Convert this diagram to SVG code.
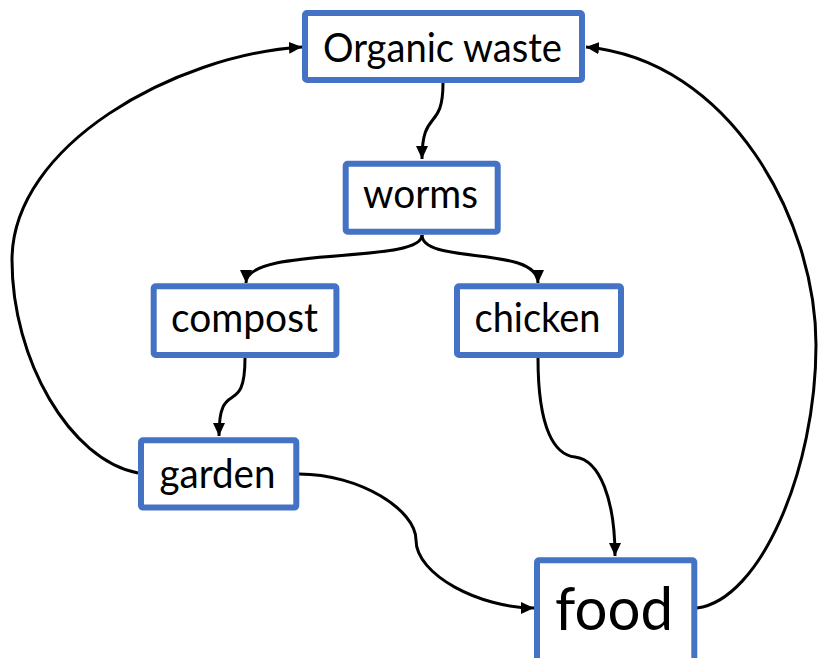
<svg xmlns="http://www.w3.org/2000/svg" width="819" height="658" viewBox="0 0 819 658">
  <defs>
    <marker id="arrow" markerUnits="userSpaceOnUse" markerWidth="14" markerHeight="13" refX="13" refY="6.5" orient="auto">
      <path d="M0,0.5 L13,6.5 L0,12.5 z" fill="#000"/>
    </marker>
    <style>
      .box { fill: #fff; stroke: #4472C4; stroke-width: 6; }
      .lbl { font-family: Lato, "Open Sans", "Liberation Sans", sans-serif; fill: #000; text-anchor: start; }
      .edge { fill: none; stroke: #000; stroke-width: 3; marker-end: url(#arrow); }
    </style>
  </defs>
  <rect width="819" height="658" fill="#fff"/>

  <g id="connectors">
    <path class="edge" d="M443,83 C443,132 422,108 422,159"/>
    <path class="edge" d="M422,235 C422,265 246,245 246,283"/>
    <path class="edge" d="M422,235 C422,265 538,245 538,283"/>
    <path class="edge" d="M245,358 C245,420 219,375 219,436"/>
    <path class="edge" d="M538,358 C538,430 555,455 575,457 C600,460 615,500 615,556"/>
    <path class="edge" d="M299,474 C360,474 416,510 416,540 C416,575 480,608 534,608"/>
    <path class="edge" d="M138,473 C70,460 12,360 12,260 C12,145 175,55 302,47"/>
    <path class="edge" d="M697,608 C760,600 816,470 816,345 C816,220 730,60 586,47"/>
  </g>

  <g id="organic-waste">
    <rect class="box" x="305" y="13" width="277" height="67" rx="2"/>
    <text class="lbl" x="323" y="61.5" font-size="40" textLength="239" lengthAdjust="spacingAndGlyphs">Organic waste</text>
  </g>
  <g id="worms">
    <rect class="box" x="345.7" y="163.7" width="152" height="68" rx="2"/>
    <text class="lbl" x="363" y="208.3" font-size="40" textLength="115" lengthAdjust="spacingAndGlyphs">worms</text>
  </g>
  <g id="compost">
    <rect class="box" x="153.7" y="286.3" width="182.7" height="68.7" rx="2"/>
    <text class="lbl" x="171" y="331.7" font-size="40" textLength="147" lengthAdjust="spacingAndGlyphs">compost</text>
  </g>
  <g id="chicken">
    <rect class="box" x="457" y="286.3" width="164" height="68.7" rx="2"/>
    <text class="lbl" x="474.5" y="331.7" font-size="40" textLength="126" lengthAdjust="spacingAndGlyphs">chicken</text>
  </g>
  <g id="garden">
    <rect class="box" x="141" y="440.3" width="155.3" height="67.3" rx="2"/>
    <text class="lbl" x="159.5" y="488.3" font-size="40" textLength="116" lengthAdjust="spacingAndGlyphs">garden</text>
  </g>
  <g id="food">
    <rect class="box" x="537" y="560.3" width="157.3" height="110" rx="2"/>
    <text class="lbl" x="555" y="630" font-size="60" textLength="118" lengthAdjust="spacingAndGlyphs">food</text>
  </g>
</svg>
